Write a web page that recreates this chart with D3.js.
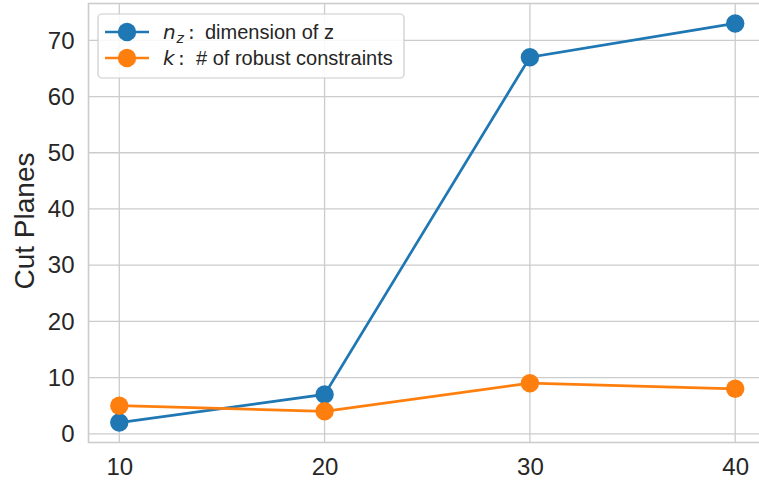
<!DOCTYPE html>
<html>
<head>
<meta charset="utf-8">
<script src="https://cdn.jsdelivr.net/npm/d3@7"></script>
<style>
  html, body { margin: 0; padding: 0; background: #fff; }
  svg { display: block; font-family: Arial, "Liberation Sans", sans-serif; }
</style>
</head>
<body>
<svg id="chart" width="759" height="482"></svg>
<script>
// Problem sizes on the x axis
const sizes = [10, 20, 30, 40];
// Number of cut planes per series
const nzValues = [2, 7, 67, 73];
const kValues = [5, 4, 9, 8];
const yTicks = [0, 10, 20, 30, 40, 50, 60, 70];
const xTicks = [10, 20, 30, 40];
const seriesColors = ["#1f77b4", "#ff7f0e"];

const svg = d3.select("#chart");
const plot = { left: 88.5, right: 766, top: 3.5, bottom: 442.5 };

const x = d3.scaleLinear().domain([8.5, 41.5]).range([plot.left, plot.right]);
const y = d3.scaleLinear().domain([-1.55, 76.55]).range([plot.bottom, plot.top]);

const gridColor = "#cccccc";
const textColor = "#262626";

// Grid lines
const grid = svg.append("g");
grid.selectAll("line.gx").data(xTicks).join("line")
  .attr("x1", d => x(d)).attr("x2", d => x(d))
  .attr("y1", plot.top).attr("y2", plot.bottom)
  .attr("stroke", gridColor).attr("stroke-width", 1.3);
grid.selectAll("line.gy").data(yTicks).join("line")
  .attr("x1", plot.left).attr("x2", plot.right)
  .attr("y1", d => y(d)).attr("y2", d => y(d))
  .attr("stroke", gridColor).attr("stroke-width", 1.3);

// Frame
svg.append("rect")
  .attr("x", plot.left).attr("y", plot.top)
  .attr("width", plot.right - plot.left).attr("height", plot.bottom - plot.top)
  .attr("fill", "none").attr("stroke", gridColor).attr("stroke-width", 1.6);

// Axes (labels only, whitegrid style has no tick marks)
const xAxis = svg.append("g")
  .attr("transform", `translate(0,${plot.bottom})`)
  .call(d3.axisBottom(x).tickValues(xTicks).tickSize(0).tickPadding(15));
const yAxis = svg.append("g")
  .attr("transform", `translate(${plot.left},0)`)
  .call(d3.axisLeft(y).tickValues(yTicks).tickSize(0).tickPadding(14));
[xAxis, yAxis].forEach(g => {
  g.select(".domain").remove();
  g.selectAll("text").attr("font-size", 24).attr("fill", textColor)
    .attr("font-family", "Arial, 'Liberation Sans', sans-serif");
});

svg.append("text")
  .attr("transform", `translate(34,${(plot.top + plot.bottom) / 2 - 2}) rotate(-90)`)
  .attr("text-anchor", "middle")
  .attr("font-size", 28).attr("fill", textColor)
  .text("Cut Planes");

// Series
const series = [
  { values: nzValues, color: seriesColors[0] },
  { values: kValues, color: seriesColors[1] }
];
const line = d3.line().x((d, i) => x(sizes[i])).y(d => y(d));

series.forEach(s => {
  const g = svg.append("g");
  g.append("path").datum(s.values)
    .attr("d", line).attr("fill", "none")
    .attr("stroke", s.color).attr("stroke-width", 2.7);
  g.selectAll("circle").data(s.values).join("circle")
    .attr("cx", (d, i) => x(sizes[i])).attr("cy", d => y(d))
    .attr("r", 9.2).attr("fill", s.color);
});

// Legend
const legend = svg.append("g");
legend.append("rect")
  .attr("x", 98).attr("y", 14).attr("width", 306).attr("height", 64)
  .attr("rx", 4).attr("fill", "#fff").attr("fill-opacity", 0.85)
  .attr("stroke", "#cccccc").attr("stroke-width", 1.2);

const rows = [32, 58];
series.forEach((s, i) => {
  const ry = rows[i];
  legend.append("line")
    .attr("x1", 105).attr("x2", 149).attr("y1", ry).attr("y2", ry)
    .attr("stroke", s.color).attr("stroke-width", 2.7);
  legend.append("circle").attr("cx", 127).attr("cy", ry).attr("r", 9.2).attr("fill", s.color);
});

const mathFont = "'DejaVu Sans', sans-serif";
const t1 = legend.append("text").attr("y", rows[0] + 7)
  .attr("font-size", 20).attr("fill", textColor);
t1.append("tspan").attr("x", 163).attr("font-style", "italic").attr("font-family", mathFont).text("n");
t1.append("tspan").attr("x", 176.5).attr("font-style", "italic").attr("font-family", mathFont)
  .attr("font-size", 14).attr("dy", 4).text("z");
t1.append("tspan").attr("x", 188).attr("dy", -4).attr("font-family", mathFont).text(":");
t1.append("tspan").attr("x", 205).text("dimension of z");

const t2 = legend.append("text").attr("y", rows[1] + 7)
  .attr("font-size", 20).attr("fill", textColor);
t2.append("tspan").attr("x", 163).attr("font-style", "italic").attr("font-family", mathFont).text("k");
t2.append("tspan").attr("x", 178).attr("font-family", mathFont).text(":");
t2.append("tspan").attr("x", 196).text("# of robust constraints");
</script>
</body>
</html>
